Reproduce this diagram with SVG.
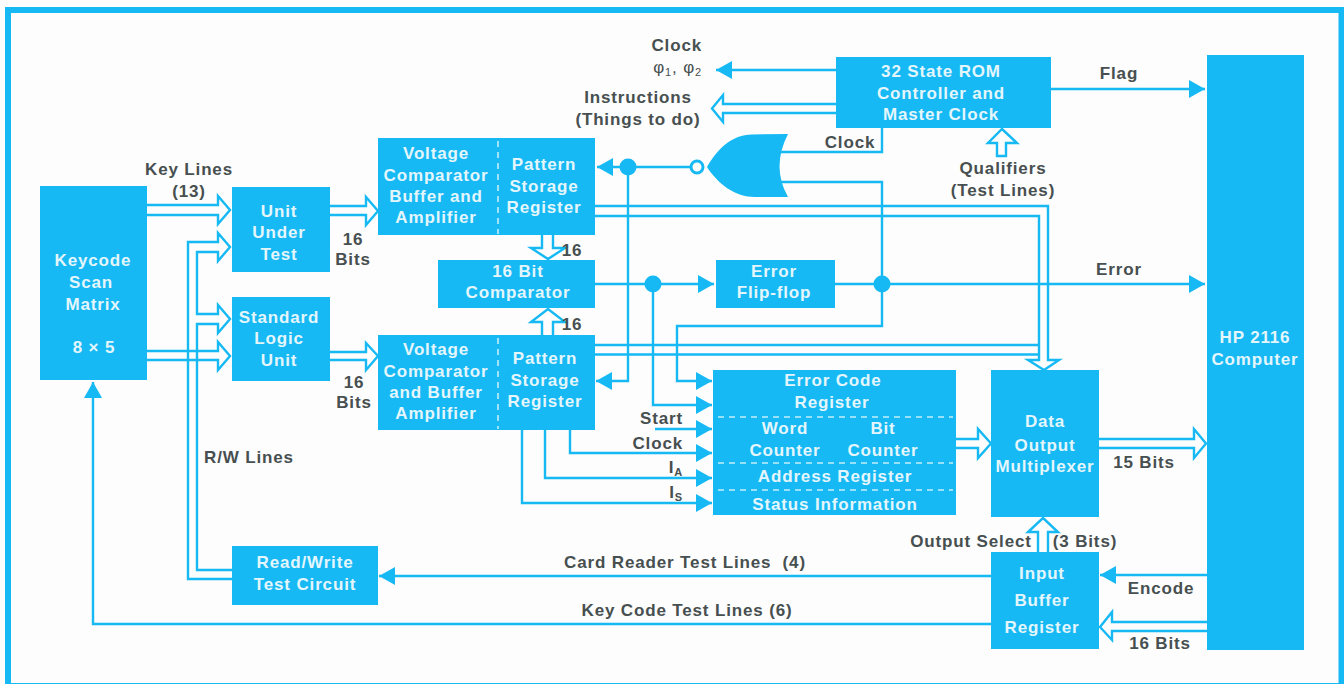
<svg xmlns="http://www.w3.org/2000/svg" width="1344" height="684" viewBox="0 0 1344 684">
<style>
.b{fill:#16b9f4}
.t{font-family:"Liberation Sans",Arial,sans-serif;font-weight:bold;font-size:17px;letter-spacing:.85px;text-anchor:middle}
.w{fill:#e4f6fc}
.d{fill:#474f50}
.e{text-anchor:end}
.s{text-anchor:start}
.c path,.c line{fill:none;stroke:#16b9f4;stroke-width:2.4}
.c .a{marker-end:url(#arr)}
.c circle{fill:#16b9f4}
.dash{stroke:#c4eefb;stroke-width:1.6;stroke-dasharray:6 5;fill:none}
</style>
<defs>
<marker id="arr" markerUnits="userSpaceOnUse" markerWidth="18" markerHeight="20" refX="16" refY="10" orient="auto"><path d="M0 1L16 10L0 19Z" fill="#16b9f4"/></marker>
</defs>
<rect width="1344" height="684" fill="#fcfdfc"/>
<rect id="frame" x="8" y="10" width="1333.500" height="676" fill="none" stroke="#16b9f4" stroke-width="6"/>

<g id="connectors" class="c">
<path d="M147 205H218V196L230 210L218 224V215H147"/>
<path d="M147 351H218V342L230 356L218 370V360H147"/>
<path d="M232 579H188V242H218V233L230 247L218 261V252H197V314H218V305L230 319L218 333V324H197V570H232"/>
<path d="M330 206H366V197L378 211L366 225V215H330"/>
<path d="M330 352H366V343L378 356L366 370V360H330"/>
<path class="a" d="M836 70H716"/>
<path d="M836 104H723V95L712 108.500L723 122V113H836"/>
<path d="M882 128V152H779"/>
<path d="M779 182H882V326H677V381H712" class="a"/>
<path class="a" d="M690 167H597"/>
<path class="a" d="M628 167V381H596"/>
<path d="M542 235V248H531L548 259L565 248H553V235"/>
<path d="M542 335V322H531L548 309L565 322H553V335"/>
<path class="a" d="M595 284H714"/>
<path class="a" d="M653 284V405H712"/>
<path class="a" d="M835 284H1205"/>
<path class="a" d="M1051 89H1205"/>
<path d="M595 206H1048V360H1059L1044 370L1028 360H1039V216H595"/>
<path d="M595 345H1039M595 354.500H1039"/>
<path d="M997 156V143H988L1002 129L1017 143H1006V156Z"/>
<path class="a" d="M655 429H712"/>
<path class="a" d="M570 430V453H712"/>
<path class="a" d="M545 430V478H712"/>
<path class="a" d="M522 430V503H712"/>
<path d="M956 439H978V429L991 443.500L978 458V448H956"/>
<path d="M1099 439H1194V429L1206 443.500L1194 458V448H1099"/>
<path d="M1038 552V532H1028L1043 518L1058 532H1048V552"/>
<path class="a" d="M1207 575H1100"/>
<path d="M1207 622H1112V612L1100 627L1112 640V631H1207"/>
<path class="a" d="M991 576H379"/>
<path class="a" d="M991 624H93V382"/>
<circle cx="628" cy="167" r="8.500"/>
<circle cx="653" cy="284" r="8.500"/>
<circle cx="882" cy="284" r="8.500"/>
</g>

<g id="keycode"><rect class="b" x="40" y="186" width="107" height="194"/>
<text class="t w" x="93" y="266">Keycode</text><text class="t w" x="91" y="288">Scan</text><text class="t w" x="93" y="310">Matrix</text><text class="t w" x="94" y="353">8 × 5</text></g>
<g id="uut"><rect class="b" x="232" y="187" width="98" height="85"/>
<text class="t w" x="279" y="217">Unit</text><text class="t w" x="279" y="238">Under</text><text class="t w" x="279" y="260">Test</text></g>
<g id="slu"><rect class="b" x="232" y="297" width="98" height="84"/>
<text class="t w" x="279" y="323">Standard</text><text class="t w" x="279" y="344">Logic</text><text class="t w" x="279" y="366">Unit</text></g>
<g id="vtop"><rect class="b" x="378" y="138" width="217" height="97"/><line class="dash" x1="498" y1="141" x2="498" y2="234"/>
<text class="t w" x="436" y="159">Voltage</text><text class="t w" x="436" y="181">Comparator</text><text class="t w" x="436" y="202">Buffer and</text><text class="t w" x="436" y="223">Amplifier</text>
<text class="t w" x="544" y="170">Pattern</text><text class="t w" x="544" y="192">Storage</text><text class="t w" x="544" y="213">Register</text></g>
<g id="vbot"><rect class="b" x="378" y="335" width="217" height="95"/><line class="dash" x1="498" y1="338" x2="498" y2="429"/>
<text class="t w" x="436" y="355">Voltage</text><text class="t w" x="436" y="377">Comparator</text><text class="t w" x="436" y="398">and Buffer</text><text class="t w" x="436" y="419">Amplifier</text>
<text class="t w" x="545" y="364">Pattern</text><text class="t w" x="545" y="386">Storage</text><text class="t w" x="545" y="407">Register</text></g>
<g id="comparator"><rect class="b" x="438" y="260" width="157" height="48"/>
<text class="t w" x="518" y="277">16 Bit</text><text class="t w" x="518" y="298">Comparator</text></g>
<g id="flipflop"><rect class="b" x="716" y="260" width="119" height="48"/>
<text class="t w" x="774" y="277">Error</text><text class="t w" x="774" y="298">Flip-flop</text></g>
<g id="rom"><rect class="b" x="836" y="57" width="215" height="71"/>
<text class="t w" x="941" y="77">32 State ROM</text><text class="t w" x="941" y="99">Controller and</text><text class="t w" x="941" y="120">Master Clock</text></g>
<g id="nor"><path class="b" d="M707 167C718 148 732 135 752 134.500L788 134Q771 167 788 197L755 197C735 197 718 184 707 167Z"/><circle cx="697" cy="167" r="6" fill="#fcfdfc" stroke="#16b9f4" stroke-width="3"/></g>
<g id="hp"><rect class="b" x="1207" y="55" width="97" height="595"/>
<text class="t w" x="1255" y="343">HP 2116</text><text class="t w" x="1255" y="365">Computer</text></g>
<g id="errcode"><rect class="b" x="713" y="370" width="243" height="145"/>
<path class="dash" d="M718 417H953M718 463H953M718 490H953"/>
<text class="t w" x="833" y="386">Error Code</text><text class="t w" x="832" y="408">Register</text>
<text class="t w" x="785" y="434">Word</text><text class="t w" x="883" y="434">Bit</text><text class="t w" x="785" y="456">Counter</text><text class="t w" x="883" y="456">Counter</text>
<text class="t w" x="835" y="482">Address  Register</text><text class="t w" x="835" y="510">Status Information</text></g>
<g id="mux"><rect class="b" x="991" y="370" width="108" height="147"/>
<text class="t w" x="1045" y="427">Data</text><text class="t w" x="1045" y="451">Output</text><text class="t w" x="1045" y="472">Multiplexer</text></g>
<g id="inbuf"><rect class="b" x="991" y="552" width="108" height="97"/>
<text class="t w" x="1042" y="579">Input</text><text class="t w" x="1042" y="606">Buffer</text><text class="t w" x="1042" y="633">Register</text></g>
<g id="rw"><rect class="b" x="232" y="546" width="146" height="59"/>
<text class="t w" x="305" y="568">Read/Write</text><text class="t w" x="305" y="590">Test Circuit</text></g>

<g id="labels">
<text class="t d" x="189" y="175">Key Lines</text><text class="t d" x="189" y="197">(13)</text>
<text class="t d" x="353" y="245">16</text><text class="t d" x="353" y="265">Bits</text>
<text class="t d" x="354" y="388">16</text><text class="t d" x="354" y="408">Bits</text>
<text class="t d" x="572" y="256">16</text><text class="t d" x="572" y="330">16</text>
<text class="t d e" x="702" y="51">Clock</text>
<text class="t d e" x="702" y="73" style="font-weight:normal">φ<tspan font-size="11" dy="3">1</tspan><tspan dy="-3">, φ</tspan><tspan font-size="11" dy="3">2</tspan></text>
<text class="t d" x="638" y="103">Instructions</text><text class="t d" x="638" y="125">(Things to do)</text>
<text class="t d" x="850" y="148">Clock</text>
<text class="t d" x="1119" y="79">Flag</text>
<text class="t d" x="1003" y="174">Qualifiers</text><text class="t d" x="1003" y="196">(Test Lines)</text>
<text class="t d" x="1119" y="275">Error</text>
<text class="t d e" x="683" y="424">Start</text><text class="t d e" x="683" y="449">Clock</text>
<text class="t d e" x="683" y="473">I<tspan font-size="11" dy="3">A</tspan></text>
<text class="t d e" x="683" y="498">I<tspan font-size="11" dy="3">S</tspan></text>
<text class="t d" x="1144" y="468">15 Bits</text>
<text class="t d" x="971" y="547">Output Select</text><text class="t d" x="1085" y="547">(3 Bits)</text>
<text class="t d" x="1161" y="594">Encode</text><text class="t d" x="1160" y="649">16 Bits</text>
<text class="t d" x="685" y="568">Card Reader Test Lines&#160; (4)</text>
<text class="t d" x="687" y="616">Key Code Test Lines (6)</text>
<text class="t d" x="249" y="463">R/W Lines</text>
</g>
</svg>
